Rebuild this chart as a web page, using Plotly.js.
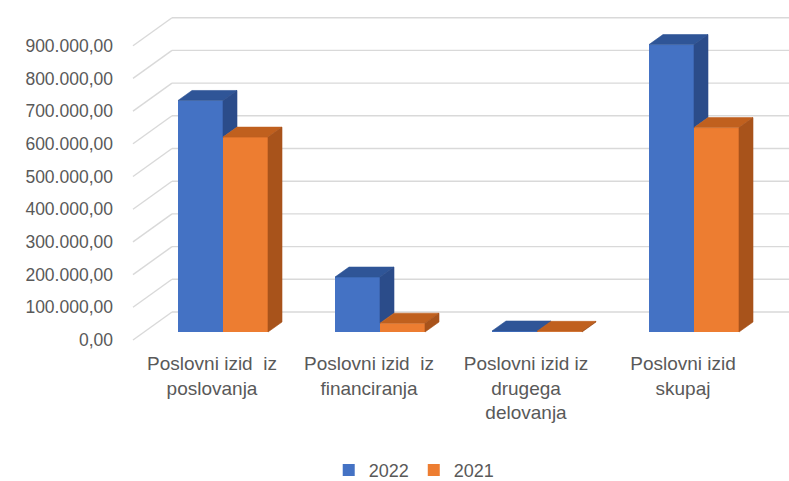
<!DOCTYPE html>
<html>
<head>
<meta charset="utf-8">
<script src="https://cdn.plot.ly/plotly-3.0.1.min.js"></script>
<style>html,body{margin:0;padding:0;background:#fff;}#chart{width:789px;height:481px;}</style>
</head>
<body>
<div id="chart"></div>
<script>
// ---- data ----
const categories = [
  'Poslovni izid \u00a0iz<br>poslovanja',
  'Poslovni izid \u00a0iz<br>financiranja',
  'Poslovni izid iz<br>drugega<br>delovanja',
  'Poslovni izid<br>skupaj'
];
const seriesNames = ['2022', '2021'];
const values2022 = [708000, 168000, 3000, 879000];
const values2021 = [596000, 27000, 2000, 625000];
const yTickVals = [0, 100000, 200000, 300000, 400000, 500000, 600000, 700000, 800000, 900000];
const yTickLabels = ['0,00', '100.000,00', '200.000,00', '300.000,00', '400.000,00',
  '500.000,00', '600.000,00', '700.000,00', '800.000,00', '900.000,00'];

// ---- geometry (pixels -> axis units) ----
const W = 789, H = 481;
const basePx = 332;               // pixel row of value 0 at the bars
const pxPerUnit = 32.7 / 100000;  // vertical scale
const yRange = [-(H - basePx) / pxPerUnit, basePx / pxPerUnit];
const frontOff = 8 / pxPerUnit;   // front edge (labels) below bar base
const backOff = 20 / pxPerUnit;   // back wall above bar base
const c0 = 223, step = 157;       // category centre / spacing in px
const xDomain = [(c0 - step / 2) / W, (c0 + 3.5 * step) / W];
const labelShift = 11;            // px: labels sit a bit left of the bars
const x2Domain = [(c0 - step / 2 - labelShift) / W, (c0 + 3.5 * step - labelShift) / W];
const barPx = 45;
const bw = barPx / step;
const bargap = 1 - 2 * bw;
const dx = 14 / step;             // depth offset in x units
const dy = 10 / pxPerUnit;        // depth offset in y units
const wallFront = 133 / W, wallBack = 172 / W;

const colors = {
  front: ['#4472C4', '#ED7D31'],
  top: ['#2F5597', '#C0601E'],
  side: ['#2B4C8A', '#A8531B']
};

const idx = categories.map((_, i) => i);
const series = [values2022, values2021];

function topFace(s) {
  const xs = [], ys = [];
  series[s].forEach((v, i) => {
    const L = s === 0 ? i - bw : i, R = L + bw;
    xs.push(L, R, R + dx, L + dx, L, null);
    ys.push(v, v, v + dy, v + dy, v, null);
  });
  return {x: xs, y: ys};
}
function sideFace(s) {
  const xs = [], ys = [];
  series[s].forEach((v, i) => {
    const R = s === 0 ? i : i + bw;
    const lo = s === 0 ? Math.max(values2021[i], 0) : 0;
    if (v <= lo) return;
    xs.push(R, R, R + dx, R + dx, R, null);
    ys.push(lo, v, v + dy, lo + dy, lo, null);
  });
  return {x: xs, y: ys};
}
function faceTrace(f, color) {
  return {
    type: 'scatter', mode: 'lines', x: f.x, y: f.y, fill: 'toself',
    fillcolor: color, line: {color: color, width: 0.6},
    hoverinfo: 'skip', showlegend: false, xaxis: 'x', yaxis: 'y'
  };
}

const traces = [
  {type: 'bar', name: seriesNames[0], x: idx, y: values2022, marker: {color: colors.front[0]}, hoverinfo: 'y'},
  {type: 'bar', name: seriesNames[1], x: idx, y: values2021, marker: {color: colors.front[1]}, hoverinfo: 'y'},
  faceTrace(topFace(0), colors.top[0]),
  faceTrace(sideFace(0), colors.side[0]),
  faceTrace(topFace(1), colors.top[1]),
  faceTrace(sideFace(1), colors.side[1]),
  // carrier for the value label axis
  {type: 'scatter', mode: 'none', x: idx, y: idx.map(() => 0), xaxis: 'x', yaxis: 'y2',
   hoverinfo: 'skip', showlegend: false},
  // carrier for the category label axis
  {type: 'scatter', mode: 'none', x: idx, y: idx.map(() => 0), xaxis: 'x2', yaxis: 'y3',
   hoverinfo: 'skip', showlegend: false}
];

// back wall gridlines + side wall diagonals
const gridColor = '#D9D9D9';
const shapes = [];
yTickVals.forEach(v => {
  shapes.push({type: 'line', layer: 'below', xref: 'paper', yref: 'y',
    x0: wallBack, x1: 1, y0: v + backOff, y1: v + backOff,
    line: {color: gridColor, width: 1.4}});
  shapes.push({type: 'line', layer: 'below', xref: 'paper', yref: 'y',
    x0: wallFront, x1: wallBack, y0: v - frontOff, y1: v + backOff,
    line: {color: gridColor, width: 1.4}});
});

const font = {family: '"Liberation Sans", Arial, sans-serif', size: 19, color: '#595959'};
const yFont = {family: font.family, size: 17.5, color: '#595959'};

const layout = {
  width: W, height: H,
  margin: {l: 0, r: 0, t: 0, b: 0, autoexpand: false},
  paper_bgcolor: '#fff', plot_bgcolor: 'rgba(0,0,0,0)',
  font: font,
  barmode: 'group', bargap: bargap, bargroupgap: 0,
  showlegend: true,
  legend: {orientation: 'h', x: 0.525, xanchor: 'center', y: -0.016, yanchor: 'bottom',
    font: {family: font.family, size: 18, color: '#595959'}, itemwidth: 30, tracegroupgap: 0},
  xaxis: {domain: xDomain, range: [-0.5, 3.5], showgrid: false, zeroline: false,
    showline: false, showticklabels: false, fixedrange: true},
  yaxis: {domain: [0, 1], range: yRange, showgrid: false, zeroline: false,
    showline: false, showticklabels: false, fixedrange: true},
  yaxis2: {overlaying: 'y', anchor: 'free', position: 113 / W, side: 'left',
    range: [yRange[0] + frontOff, yRange[1] + frontOff],
    tickvals: yTickVals, ticktext: yTickLabels, showgrid: false, zeroline: false,
    showline: false, ticks: '', tickfont: yFont, fixedrange: true},
  xaxis2: {domain: x2Domain, anchor: 'y3', range: [-0.5, 3.5], tickvals: idx,
    ticktext: categories, showgrid: false, zeroline: false, showline: false,
    ticks: '', tickfont: font, fixedrange: true},
  yaxis3: {domain: [1 - 350 / H, 1], anchor: 'x2', visible: false, range: [0, 1], fixedrange: true},
  shapes: shapes
};

Plotly.newPlot('chart', traces, layout, {displayModeBar: false, staticPlot: true});
</script>
</body>
</html>
